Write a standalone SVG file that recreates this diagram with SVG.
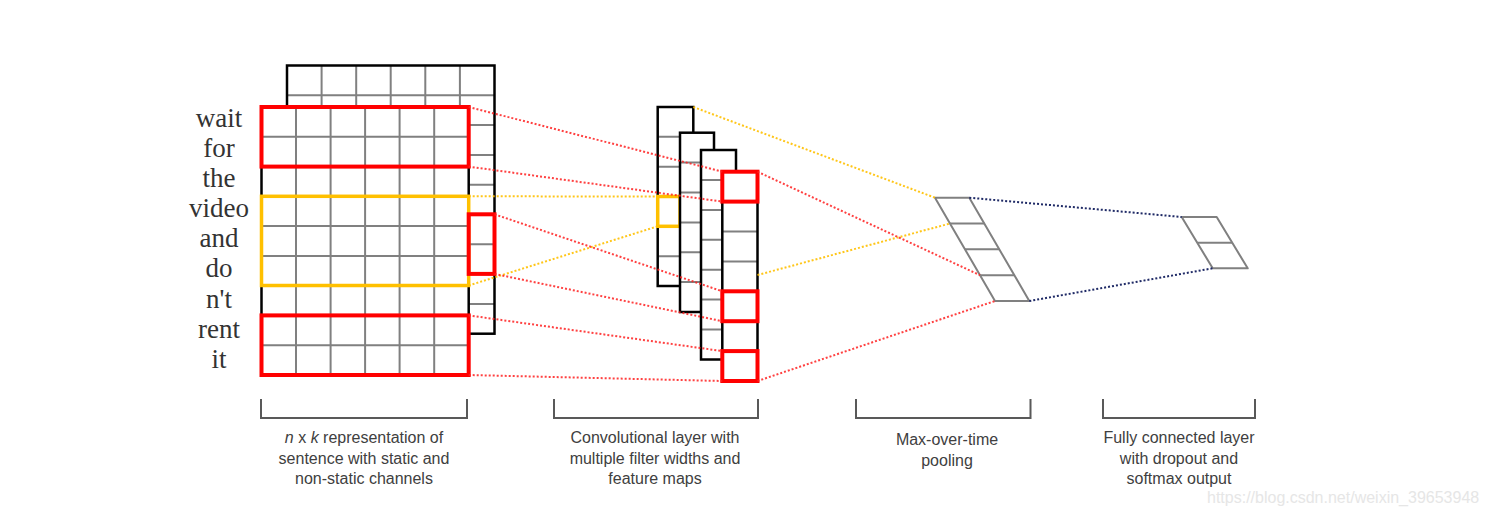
<svg xmlns="http://www.w3.org/2000/svg" width="1487" height="517" viewBox="0 0 1487 517">
<style>
.bg{fill:#fff}
.cell{fill:#fff;stroke:none}
.grid{stroke:#808080;stroke-width:2;fill:none}
.outline{fill:none;stroke:#000;stroke-width:2.5}
.red{fill:none;stroke:#ff0000;stroke-width:4}
.orange{fill:none;stroke:#ffc000;stroke-width:3.5}
.shape{fill:none;stroke:#808080;stroke-width:2;stroke-linejoin:round}
.dr{stroke:#ff2020;stroke-width:2;stroke-dasharray:2 2;fill:none;opacity:.85}
.do{stroke:#ffc000;stroke-width:2;stroke-dasharray:2 2;fill:none;opacity:.9}
.dn{stroke:#1f2a66;stroke-width:2;stroke-dasharray:2 2;fill:none}
.word{font-family:"Liberation Serif","DejaVu Serif",serif;font-size:27px;fill:#333;text-anchor:middle}
.lbl{font-family:"Liberation Sans",Arial,sans-serif;font-size:16px;fill:#404040;text-anchor:middle}
.brk{fill:none;stroke:#595959;stroke-width:2}
.wm{font-family:"Liberation Sans",Arial,sans-serif;font-size:16px;fill:#e6e6e6}
</style>
<rect class="bg" x="0" y="0" width="1487" height="517"/>

<g id="words">
<text class="word" x="219" y="127">wait</text>
<text class="word" x="219" y="157">for</text>
<text class="word" x="219" y="187">the</text>
<text class="word" x="219" y="217">video</text>
<text class="word" x="219" y="247">and</text>
<text class="word" x="219" y="277">do</text>
<text class="word" x="219" y="308">n't</text>
<text class="word" x="219" y="338">rent</text>
<text class="word" x="219" y="368">it</text>
</g>

<g id="input-matrix-back">
<rect class="cell" x="287" y="65.5" width="207.5" height="268.2"/>
<path class="grid" d="M321.6,65.5V333.7M356.2,65.5V333.7M390.7,65.5V333.7M425.3,65.5V333.7M459.9,65.5V333.7M287,95.3H494.5M287,125.1H494.5M287,154.9H494.5M287,184.7H494.5M287,214.5H494.5M287,244.3H494.5M287,274.1H494.5M287,303.9H494.5"/>
<rect class="outline" x="287" y="65.5" width="207.5" height="268.2"/>
</g>

<g id="input-matrix-front">
<rect class="cell" x="261.5" y="107" width="207.2" height="268"/>
<path class="grid" d="M296,107V375M330.6,107V375M365.1,107V375M399.6,107V375M434.2,107V375M261.5,136.8H468.7M261.5,166.6H468.7M261.5,196.3H468.7M261.5,226.1H468.7M261.5,255.9H468.7M261.5,285.7H468.7M261.5,315.4H468.7M261.5,345.2H468.7"/>
<rect class="outline" x="261.5" y="107" width="207.2" height="268"/>
<rect class="red" x="261.5" y="107" width="207.2" height="59.6"/>
<rect class="orange" x="261.5" y="196.3" width="207.2" height="89.2"/>
<rect class="red" x="261.5" y="315.4" width="207.2" height="59.6"/>
<rect class="red" x="468.7" y="214.3" width="25.8" height="59.6"/>
</g>

<g id="conv-map-1">
<rect class="cell" x="657.7" y="107" width="35.6" height="179"/>
<path class="grid" d="M657.7,136.8H693.3M657.7,166.7H693.3M657.7,196.5H693.3M657.7,226.3H693.3M657.7,256.2H693.3"/>
<rect class="outline" x="657.7" y="107" width="35.6" height="179"/>
<rect class="orange" x="657.7" y="196.5" width="22.3" height="29.8"/>
</g>
<g id="conv-map-2">
<rect class="cell" x="680" y="132.7" width="34" height="179.3"/>
<path class="grid" d="M680,162.6H714M680,192.5H714M680,222.4H714M680,252.3H714M680,282.1H714"/>
<rect class="outline" x="680" y="132.7" width="34" height="179.3"/>
</g>
<g id="conv-map-3">
<rect class="cell" x="701" y="150" width="35" height="209.5"/>
<path class="grid" d="M701,180H736M701,209.9H736M701,239.8H736M701,269.7H736M701,299.6H736M701,329.5H736"/>
<rect class="outline" x="701" y="150" width="35" height="209.5"/>
</g>
<g id="conv-map-4">
<rect class="cell" x="722.3" y="171.7" width="35.2" height="209.3"/>
<path class="grid" d="M722.3,231.5H757.5M722.3,261.4H757.5"/>
<rect class="outline" x="722.3" y="171.7" width="35.2" height="209.3"/>
<rect class="red" x="722.3" y="171.7" width="35.2" height="29.9"/>
<rect class="red" x="722.3" y="291.3" width="35.2" height="29.9"/>
<rect class="red" x="722.3" y="351.1" width="35.2" height="29.9"/>
</g>

<g id="pooling">
<path class="shape" d="M935,197.7H969.3L1029.3,301H995Z"/>
<path class="shape" d="M950,223.5H984.3M965,249.3H999.3M980,275.2H1014.3"/>
</g>

<g id="fully-connected">
<path class="shape" d="M1181.7,217H1216.7L1247.7,268.3H1212.7Z"/>
<path class="shape" d="M1197.2,242.7H1232.2"/>
</g>

<g id="connectors">
<path class="dr" d="M468.7,107L722.3,171.7"/>
<path class="dr" d="M468.7,166.6L722.3,201.6"/>
<path class="do" d="M468.7,196.3L657.7,196.5"/>
<path class="do" d="M468.7,285.5L657.7,226.3"/>
<path class="dr" d="M494.5,214.3L722.3,291.3"/>
<path class="dr" d="M494.5,273.9L722.3,321.2"/>
<path class="dr" d="M468.7,315.4L722.3,351.1"/>
<path class="dr" d="M468.7,375L722.3,381"/>
<path class="do" d="M693.3,107L935,197.7"/>
<path class="do" d="M757.5,275L950,223.5"/>
<path class="dr" d="M757.5,171.7L980,275.2"/>
<path class="dr" d="M757.5,381L995,301"/>
<path class="dn" d="M969.3,197.7L1181.7,217"/>
<path class="dn" d="M1029.3,301L1212.7,268.3"/>
</g>

<g id="brackets">
<path class="brk" d="M261,399V418H467V399"/>
<path class="brk" d="M554,399V418H758V399"/>
<path class="brk" d="M856,399V418H1030.5V399"/>
<path class="brk" d="M1103,399V418H1255V399"/>
</g>

<g id="labels">
<text class="lbl" x="364" y="443"><tspan font-style="italic">n</tspan> x <tspan font-style="italic">k</tspan> representation of</text>
<text class="lbl" x="364" y="463.5">sentence with static and</text>
<text class="lbl" x="364" y="484">non-static channels</text>
<text class="lbl" x="655" y="443">Convolutional layer with</text>
<text class="lbl" x="655" y="463.5">multiple filter widths and</text>
<text class="lbl" x="655" y="484">feature maps</text>
<text class="lbl" x="947" y="445">Max-over-time</text>
<text class="lbl" x="947" y="465.5">pooling</text>
<text class="lbl" x="1179" y="443">Fully connected layer</text>
<text class="lbl" x="1179" y="463.5">with dropout and</text>
<text class="lbl" x="1179" y="484">softmax output</text>
</g>

<text class="wm" x="1207" y="503">https://blog.csdn.net/weixin_39653948</text>
</svg>
